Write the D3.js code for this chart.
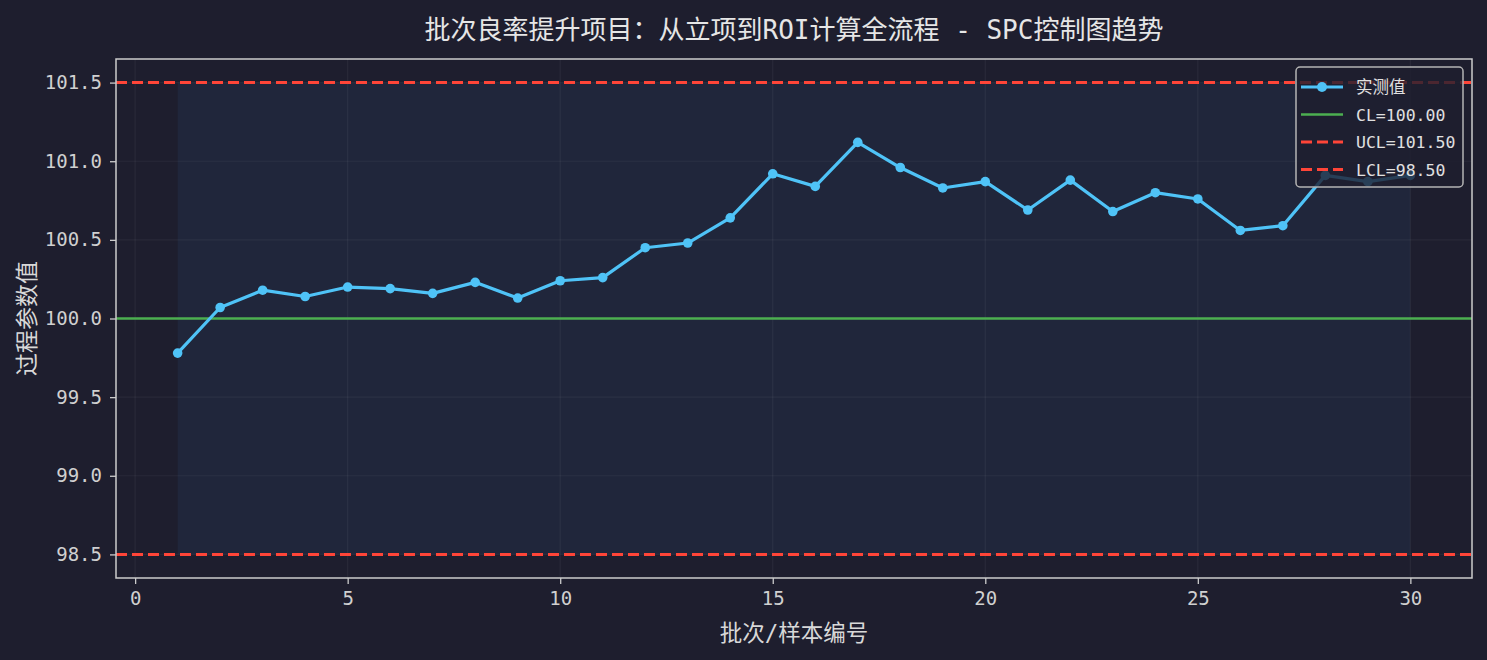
<!DOCTYPE html>
<html>
<head>
<meta charset="utf-8">
<script src="https://cdn.jsdelivr.net/npm/d3@7"></script>
<style>
    body { margin: 0; background: #1e1e2e; }
    svg { display: block; }
    text { font-family: "DejaVu Sans Mono", "Noto Sans CJK SC", monospace; }
</style>
</head>
<body>
<div id="plot"></div>
<script>
// Data
const batches = [1, 2, 3, 4, 5, 6, 7, 8, 9, 10, 11, 12, 13, 14, 15,
                 16, 17, 18, 19, 20, 21, 22, 23, 24, 25, 26, 27, 28, 29, 30];
const values = [99.78, 100.07, 100.18, 100.14, 100.20, 100.19, 100.16, 100.23, 100.13, 100.24,
                100.26, 100.45, 100.48, 100.64, 100.92, 100.84, 101.12, 100.96, 100.83, 100.87,
                100.69, 100.88, 100.68, 100.80, 100.76, 100.56, 100.59, 100.91, 100.87, 100.91];
const CL = 100.0;
const UCL = 101.5;
const LCL = 98.5;
const xTicks = [0, 5, 10, 15, 20, 25, 30];
const yTicks = [98.5, 99.0, 99.5, 100.0, 100.5, 101.0, 101.5];
const legendLabels = ["实测值", "CL=100.00", "UCL=101.50", "LCL=98.50"];

// Chart dimensions
const svgWidth = 1487;
const svgHeight = 660;
const margin = { top: 59, right: 15, bottom: 82, left: 116 };
const width = svgWidth - margin.left - margin.right;
const height = svgHeight - margin.top - margin.bottom;

const svg = d3.select("#plot")
    .append("svg")
    .attr("width", svgWidth)
    .attr("height", svgHeight);

svg.append("rect")
    .attr("width", svgWidth)
    .attr("height", svgHeight)
    .attr("fill", "#1e1e2e");

// Title
svg.append("text")
    .attr("x", margin.left + width / 2)
    .attr("y", 39)
    .attr("text-anchor", "middle")
    .attr("fill", "#e6e6e6")
    .style("font-size", "26px")
    .text("批次良率提升项目：从立项到ROI计算全流程 - SPC控制图趋势");

const g = svg.append("g")
    .attr("transform", `translate(${margin.left}, ${margin.top})`);

// Scales (matplotlib style 5% padding)
const xScale = d3.scaleLinear().domain([-0.45, 31.45]).range([0, width]);
const yScale = d3.scaleLinear().domain([98.35, 101.65]).range([height, 0]);

// Control band between LCL and UCL
g.append("rect")
    .attr("x", xScale(batches[0]))
    .attr("y", yScale(UCL))
    .attr("width", xScale(batches[batches.length - 1]) - xScale(batches[0]))
    .attr("height", yScale(LCL) - yScale(UCL))
    .attr("fill", "#283c5a")
    .attr("opacity", 0.3);

// Grid
g.selectAll(".xgrid")
    .data(xTicks)
    .enter()
    .append("line")
    .attr("x1", d => xScale(d))
    .attr("x2", d => xScale(d))
    .attr("y1", 0)
    .attr("y2", height)
    .attr("stroke", "#ffffff")
    .attr("stroke-opacity", 0.05)
    .attr("stroke-width", 1.2);

g.selectAll(".ygrid")
    .data(yTicks)
    .enter()
    .append("line")
    .attr("x1", 0)
    .attr("x2", width)
    .attr("y1", d => yScale(d))
    .attr("y2", d => yScale(d))
    .attr("stroke", "#ffffff")
    .attr("stroke-opacity", 0.05)
    .attr("stroke-width", 1.2);

// Control lines
g.append("line")
    .attr("x1", 0).attr("x2", width)
    .attr("y1", yScale(CL)).attr("y2", yScale(CL))
    .attr("stroke", "#4caf50")
    .attr("stroke-width", 2.7);

[UCL, LCL].forEach(v => {
    g.append("line")
        .attr("x1", 0).attr("x2", width)
        .attr("y1", yScale(v)).attr("y2", yScale(v))
        .attr("stroke", "#ff4538")
        .attr("stroke-width", 3)
        .attr("stroke-dasharray", "11,5");
});

// Measured values
const line = d3.line()
    .x((d, i) => xScale(batches[i]))
    .y(d => yScale(d));

g.append("path")
    .datum(values)
    .attr("d", line)
    .attr("fill", "none")
    .attr("stroke", "#4fc3f7")
    .attr("stroke-width", 3.2)
    .attr("stroke-linejoin", "round");

g.selectAll(".dot")
    .data(values)
    .enter()
    .append("circle")
    .attr("cx", (d, i) => xScale(batches[i]))
    .attr("cy", d => yScale(d))
    .attr("r", 4.8)
    .attr("fill", "#4fc3f7");

// Axes
const xAxis = g.append("g")
    .attr("transform", `translate(0, ${height})`)
    .call(d3.axisBottom(xScale).tickValues(xTicks).tickSize(6).tickPadding(8).tickFormat(d3.format("d")));

const yAxis = g.append("g")
    .call(d3.axisLeft(yScale).tickValues(yTicks).tickSize(6).tickPadding(8).tickFormat(d3.format(".1f")));

[xAxis, yAxis].forEach(ax => {
    ax.select(".domain").remove();
    ax.selectAll(".tick line").attr("stroke", "#cccccc").attr("stroke-width", 1.3);
    ax.selectAll(".tick text").attr("fill", "#d0d0d0").style("font-size", "19px");
});

// Frame
g.append("rect")
    .attr("width", width)
    .attr("height", height)
    .attr("fill", "none")
    .attr("stroke", "#cccccc")
    .attr("stroke-width", 1.5);

// Axis labels
svg.append("text")
    .attr("x", margin.left + width / 2)
    .attr("y", 641)
    .attr("text-anchor", "middle")
    .attr("fill", "#d8d8d8")
    .style("font-size", "22.5px")
    .text("批次/样本编号");

svg.append("text")
    .attr("transform", `translate(35, ${margin.top + height / 2}) rotate(-90)`)
    .attr("text-anchor", "middle")
    .attr("fill", "#d8d8d8")
    .style("font-size", "23px")
    .text("过程参数值");

// Legend
const legend = svg.append("g").attr("transform", "translate(1296, 67)");
legend.append("rect")
    .attr("width", 167)
    .attr("height", 120)
    .attr("rx", 4)
    .attr("fill", "#1e1e2e")
    .attr("fill-opacity", 0.8)
    .attr("stroke", "#b4b4b4")
    .attr("stroke-width", 1.5);

const legendStyles = [
    { color: "#4fc3f7", width: 3, dash: null, marker: true },
    { color: "#4caf50", width: 2.7, dash: null, marker: false },
    { color: "#ff4538", width: 3, dash: "11,5", marker: false },
    { color: "#ff4538", width: 3, dash: "11,5", marker: false }
];

legendLabels.forEach((label, i) => {
    const y = 20 + i * 27.5;
    const s = legendStyles[i];
    legend.append("line")
        .attr("x1", 5).attr("x2", 47)
        .attr("y1", y).attr("y2", y)
        .attr("stroke", s.color)
        .attr("stroke-width", s.width)
        .attr("stroke-dasharray", s.dash);
    if (s.marker) {
        legend.append("circle")
            .attr("cx", 26).attr("cy", y).attr("r", 5)
            .attr("fill", s.color);
    }
    legend.append("text")
        .attr("x", 60)
        .attr("y", y + 6)
        .attr("fill", "#e0e0e0")
        .style("font-size", "16.5px")
        .text(label);
});
</script>
</body>
</html>
